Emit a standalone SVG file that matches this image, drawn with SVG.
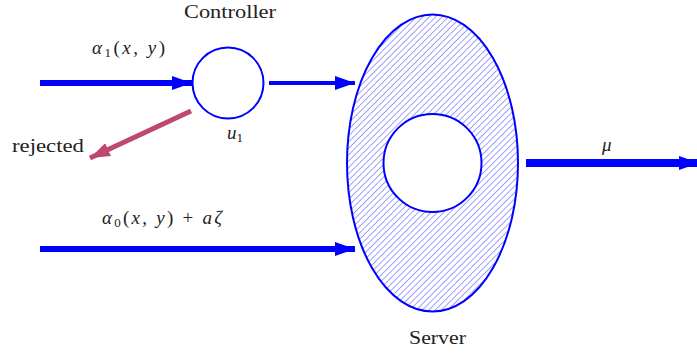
<svg xmlns="http://www.w3.org/2000/svg" width="697" height="354" viewBox="0 0 697 354">
<style>
.t{font-family:"Liberation Serif","DejaVu Serif",serif;font-size:19px;fill:#222}
.m{font-family:"Liberation Serif","DejaVu Serif",serif;font-size:19px;font-style:italic;fill:#222}
</style>
<defs>
<pattern id="hatch" patternUnits="userSpaceOnUse" width="4.5" height="4.5" patternTransform="rotate(45)">
<line x1="0" y1="0" x2="0" y2="4.5" stroke="#2f2fff" stroke-width="0.9"/>
</pattern>
<marker id="ah" markerUnits="userSpaceOnUse" viewBox="0 0 20 14" refX="20" refY="7" markerWidth="20" markerHeight="14" orient="auto">
<path d="M0,0 L20,7 L0,14 Z" fill="#0000ff"/>
</marker>
<marker id="ahr" markerUnits="userSpaceOnUse" viewBox="0 0 20 14" refX="20" refY="7" markerWidth="20" markerHeight="14" orient="auto">
<path d="M0,0 L20,7 L0,14 Z" fill="#bf4870"/>
</marker>
</defs>
<g id="connectors">
<line x1="40" y1="83" x2="192" y2="83" stroke="#0000ff" stroke-width="6" marker-end="url(#ah)"/>
<line x1="269" y1="83" x2="355" y2="83" stroke="#0000ff" stroke-width="4" marker-end="url(#ah)"/>
<line x1="40" y1="249" x2="355" y2="249" stroke="#0000ff" stroke-width="6" marker-end="url(#ah)"/>
<line x1="526" y1="163" x2="699" y2="163" stroke="#0000ff" stroke-width="8" marker-end="url(#ah)"/>
<line x1="191" y1="111" x2="90" y2="158" stroke="#bf4870" stroke-width="5" marker-end="url(#ahr)"/>
</g>
<g id="controller">
<circle cx="228" cy="83" r="35.5" fill="#fff" stroke="#0000ff" stroke-width="2"/>
<text class="t" x="184" y="18" textLength="92" lengthAdjust="spacingAndGlyphs">Controller</text>
<text class="m" x="227" y="139">u<tspan font-size="13" font-style="normal" dy="3">1</tspan></text>
</g>
<g id="server">
<ellipse cx="432.5" cy="163" rx="85.5" ry="148.5" fill="url(#hatch)" stroke="#0000ff" stroke-width="2"/>
<circle cx="432.5" cy="163" r="49" fill="#fff" stroke="#0000ff" stroke-width="2"/>
<text class="t" x="409" y="344" textLength="57" lengthAdjust="spacingAndGlyphs">Server</text>
</g>
<g id="labels">
<text class="m" x="92" y="54" textLength="73" lengthAdjust="spacing">α<tspan font-size="13" font-style="normal" dy="3">1</tspan><tspan dy="-3" font-style="normal">(</tspan>x<tspan font-style="normal">, </tspan>y<tspan font-style="normal">)</tspan></text>
<text class="t" x="12" y="152" textLength="72" lengthAdjust="spacingAndGlyphs">rejected</text>
<text class="m" x="102" y="224" textLength="120" lengthAdjust="spacing">α<tspan font-size="13" font-style="normal" dy="3">0</tspan><tspan dy="-3" font-style="normal">(</tspan>x<tspan font-style="normal">, </tspan>y<tspan font-style="normal">) + </tspan>aζ</text>
<text class="m" x="602" y="151">μ</text>
</g>
</svg>
